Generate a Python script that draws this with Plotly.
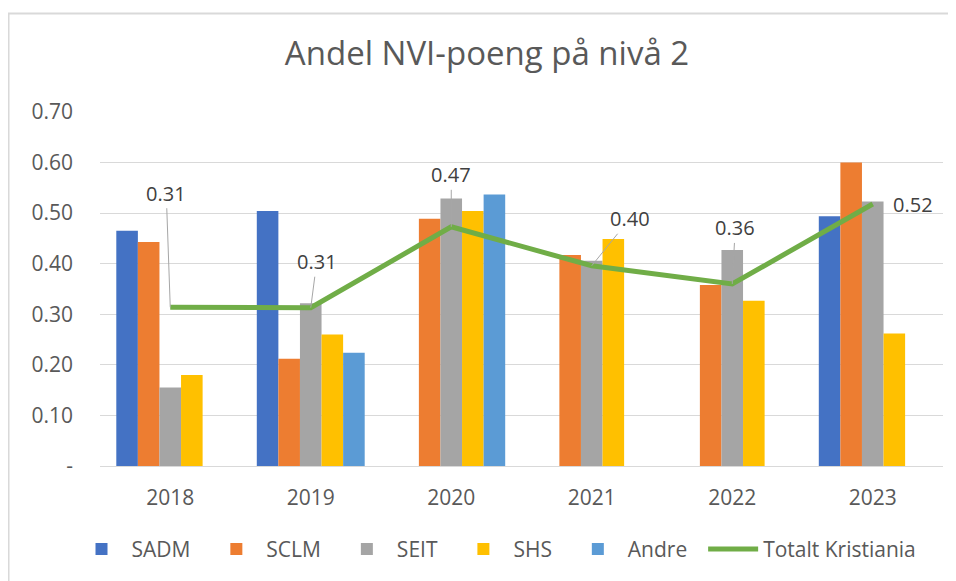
import plotly.graph_objects as go

years = ["2018", "2019", "2020", "2021", "2022", "2023"]
sadm = [0.465, 0.504, None, None, None, 0.494]
sclm = [0.443, 0.212, 0.489, 0.417, 0.358, 0.600]
seit = [0.155, 0.322, 0.529, 0.406, 0.427, 0.523]
shs = [0.180, 0.260, 0.504, 0.449, 0.327, 0.262]
andre = [None, 0.224, 0.537, None, None, None]
totalt = [0.314, 0.313, 0.473, 0.396, 0.360, 0.518]

ytick_vals = [0, 0.1, 0.2, 0.3, 0.4, 0.5, 0.6, 0.7]
ytick_text = ["-", "0.10", "0.20", "0.30", "0.40", "0.50", "0.60", "0.70"]

# label offsets (pixels) for the total-line data labels
label_ax = [-4, 6, 0, 38, 3, 40]
label_ay = [-114, -46, -52, -47, -56, 0]
label_arrow = [True, True, True, True, True, False]

FONT = "Open Sans"
TXT = "#595959"
PAD = "\u00a0\u00a0"

fig = go.Figure()
bar_series = [
    ("SADM", sadm, "#4472C4"),
    ("SCLM", sclm, "#ED7D31"),
    ("SEIT", seit, "#A5A5A5"),
    ("SHS", shs, "#FFC000"),
    ("Andre", andre, "#5B9BD5"),
]
for name, vals, col in bar_series:
    fig.add_trace(go.Bar(x=years, y=vals, name=name + PAD, marker_color=col,
                         marker_line_width=0))

fig.add_trace(go.Scatter(x=years, y=totalt, name="Totalt Kristiania", mode="lines",
                         line=dict(color="#70AD47", width=5)))

for i, v in enumerate(totalt):
    if label_arrow[i]:
        fig.add_annotation(x=i, y=v, text=f"{v:.2f}", showarrow=True,
                           ax=label_ax[i], ay=label_ay[i], arrowhead=0,
                           arrowwidth=1, arrowcolor="#A6A6A6", standoff=0,
                           font=dict(family=FONT, size=20, color="#404040"))
    else:
        fig.add_annotation(x=i, y=v, text=f"{v:.2f}", showarrow=False,
                           xshift=label_ax[i], yshift=-label_ay[i],
                           font=dict(family=FONT, size=20, color="#404040"))

# chart-area border (Excel style)
fig.add_shape(type="rect", xref="paper", yref="paper",
              x0=-0.1085, x1=1.2, y0=-0.6, y1=1.278,
              line=dict(color="#D9D9D9", width=2), fillcolor="rgba(0,0,0,0)",
              layer="below")

fig.update_layout(
    width=948, height=573,
    paper_bgcolor="white", plot_bgcolor="white",
    margin=dict(l=92, r=13, t=104, b=114),
    barmode="group", bargap=0.232, bargroupgap=0,
    title=dict(text="Andel NVI-poeng på nivå 2", x=0.5053, xanchor="center",
               y=0.9206, yanchor="middle", yref="container",
               font=dict(family=FONT, size=33, color=TXT)),
    font=dict(family=FONT, size=20, color=TXT),
    showlegend=True,
    legend=dict(orientation="h", x=-0.0338, xanchor="left",
                y=-0.232, yanchor="middle",
                font=dict(family=FONT, size=21, color=TXT),
                itemwidth=50, traceorder="normal"),
    xaxis=dict(type="category", range=[-0.5, 5.5], autorange=False,
               showgrid=False, showline=True, linecolor="#D9D9D9",
               linewidth=1, ticks="", tickfont=dict(family=FONT, size=21, color=TXT),
               ticklabelstandoff=13),
    yaxis=dict(range=[0, 0.7], autorange=False, tickvals=ytick_vals, ticktext=ytick_text,
               showgrid=True, gridcolor="#D9D9D9", gridwidth=1, zeroline=False,
               showline=False, ticks="",
               tickfont=dict(family=FONT, size=21, color=TXT),
               ticklabelstandoff=26),
)

fig.write_html("out.html")
